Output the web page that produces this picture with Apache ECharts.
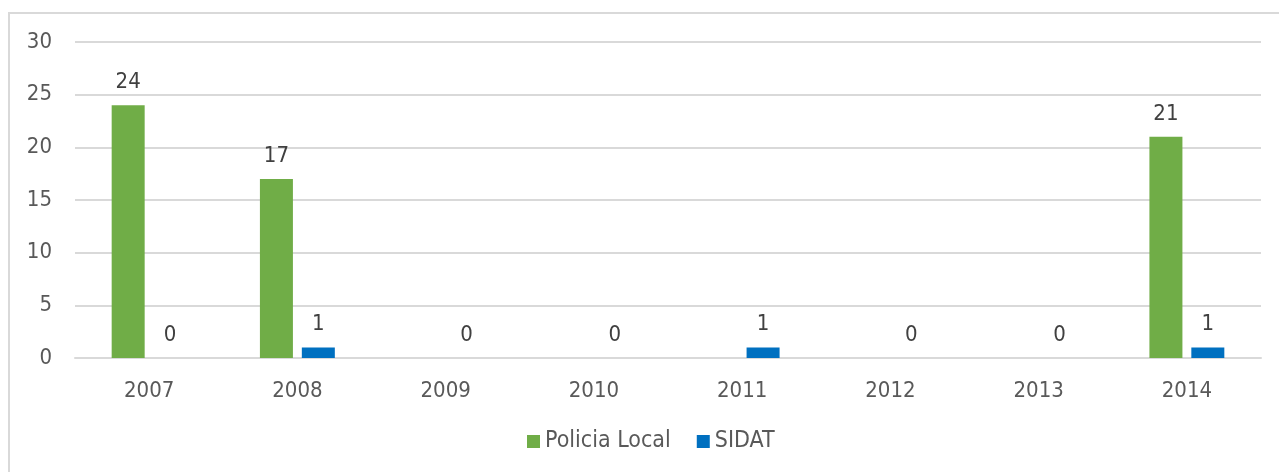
<!DOCTYPE html>
<html>
<head>
<meta charset="utf-8">
<script src="https://cdn.jsdelivr.net/npm/echarts@6/dist/echarts.min.js"></script>
<style>
	html, body { margin: 0; padding: 0; background: #fff; }
	#chart { width: 1279px; height: 472px; }
</style>
</head>
<body>
<div id="chart"></div>
<script>
"use strict";

var years = ['2007', '2008', '2009', '2010', '2011', '2012', '2013', '2014'];
var policiaLocal = [24, 17, null, null, null, null, null, 21];
var sidat = [0, 1, 0, 0, 1, 0, 0, 1];
var yTicks = [0, 5, 10, 15, 20, 25, 30];

var FONT = '"DejaVu Sans Condensed", "DejaVu Sans", sans-serif';

var chart = echarts.init(document.getElementById('chart'));

var barLabel = {
	show: true,
	position: 'top',
	distance: 12,
	color: '#404040',
	fontFamily: FONT,
	fontSize: 22
};

chart.setOption({
	animation: false,
	backgroundColor: '#fff',
	graphic: [{
		type: 'rect',
		silent: true,
		shape: { x: 9, y: 13, width: 1320, height: 520 },
		style: { fill: 'none', stroke: '#d9d9d9', lineWidth: 2 }
	}],
	grid: {
		top: 42,
		left: 75,
		right: 18,
		bottom: 114
	},
	legend: {
		bottom: 14,
		left: 522,
		icon: 'rect',
		itemWidth: 13,
		itemHeight: 13,
		itemGap: 26,
		textStyle: { color: '#595959', fontFamily: FONT, fontSize: 23 },
		data: ['Policia Local', 'SIDAT']
	},
	xAxis: {
		type: 'category',
		data: years,
		axisTick: { show: false },
		axisLine: { lineStyle: { color: '#d9d9d9', width: 2 } },
		axisLabel: { color: '#595959', fontFamily: FONT, fontSize: 22, margin: 22 }
	},
	yAxis: {
		type: 'value',
		min: yTicks[0],
		max: yTicks[yTicks.length - 1],
		interval: 5,
		axisLine: { show: false },
		axisTick: { show: false },
		splitLine: { lineStyle: { color: '#d9d9d9', width: 2 } },
		axisLabel: { color: '#595959', fontFamily: FONT, fontSize: 22, margin: 23 }
	},
	series: [{
		name: 'Policia Local',
		type: 'bar',
		data: policiaLocal,
		barWidth: 33,
		barGap: '27%',
		itemStyle: { color: '#70ad47' },
		label: barLabel
	}, {
		name: 'SIDAT',
		type: 'bar',
		data: sidat,
		barWidth: 33,
		barGap: '27%',
		itemStyle: { color: '#0070c0' },
		label: barLabel
	}]
});
</script>
</body>
</html>
